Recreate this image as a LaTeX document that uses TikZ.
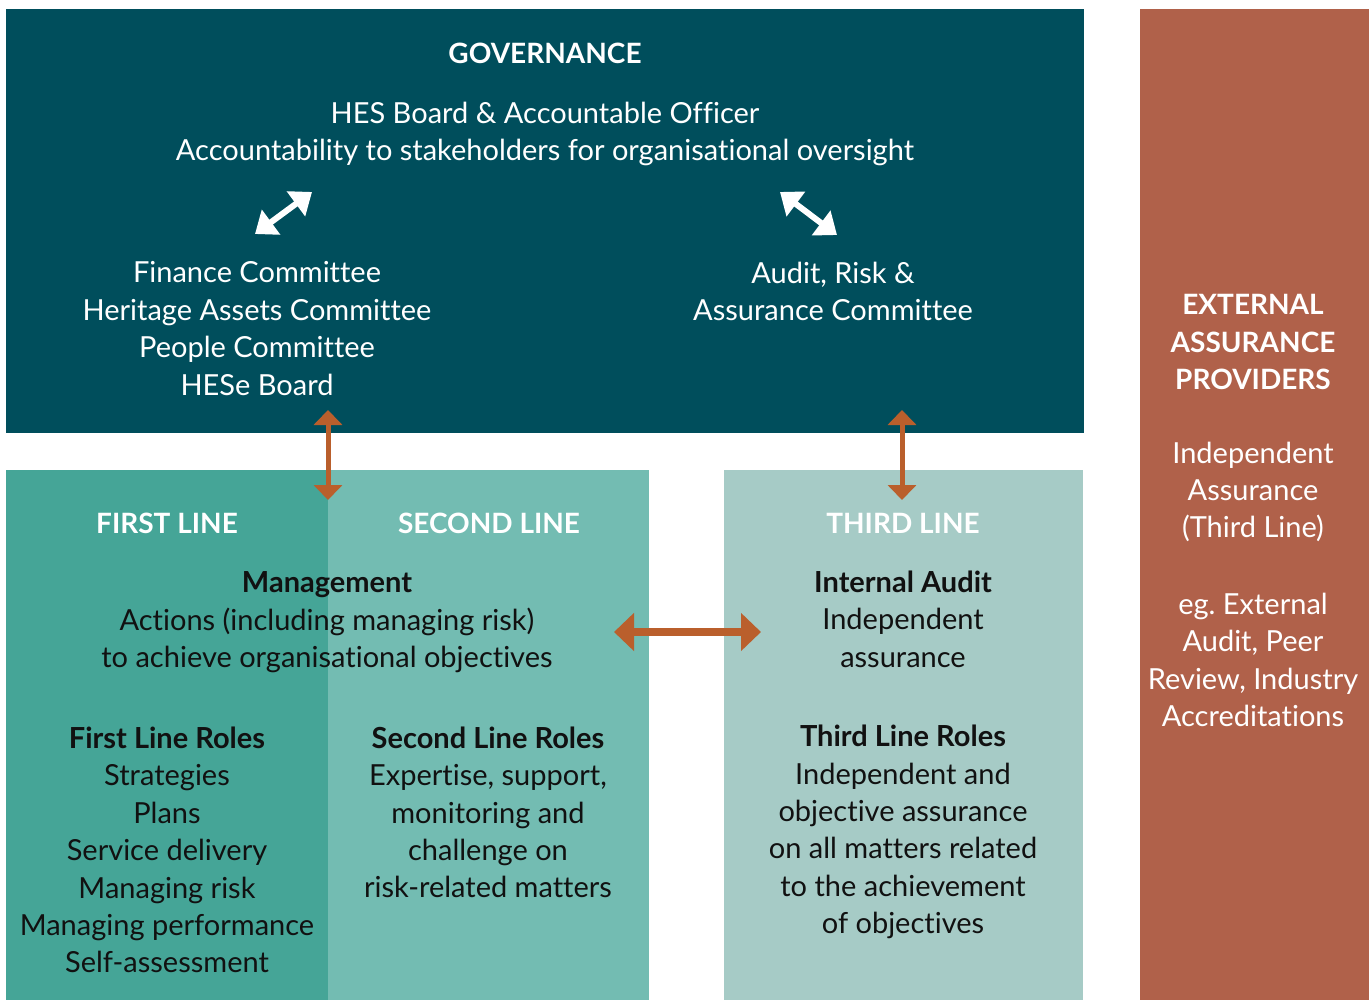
\documentclass[tikz,border=0pt]{standalone}
\usepackage{fontspec}
\setmainfont{Lato}[Ligatures=NoCommon]
\frenchspacing
\usetikzlibrary{arrows.meta}
\definecolor{govteal}{HTML}{004E5C}
\definecolor{firstc}{HTML}{45A597}
\definecolor{secondc}{HTML}{73BCB2}
\definecolor{thirdc}{HTML}{A6CBC6}
\definecolor{extc}{HTML}{B0614A}
\definecolor{arrowc}{HTML}{BA5F2C}
\definecolor{ink}{HTML}{111111}
\begin{document}
\begin{tikzpicture}[x=1pt,y=-1pt,
  txt/.style={align=center, inner sep=0pt, font=\fontsize{29}{37.4}\selectfont},
  head/.style={align=center, inner sep=0pt, font=\fontsize{28}{37.4}\selectfont\bfseries},
  oarrow/.style={draw=arrowc, line width=5pt, {Triangle[width=28pt,length=15pt]}-{Triangle[width=28pt,length=15pt]}},
  harrow/.style={draw=arrowc, line width=8pt, {Triangle[width=37pt,length=20pt]}-{Triangle[width=37pt,length=20pt]}},
  warrow/.style={draw=white, line width=6pt, {Triangle[width=30pt,length=20pt]}-{Triangle[width=30pt,length=20pt]}}]
\useasboundingbox (0,0) rectangle (1369,1000);
% panels
\fill[govteal] (6,9) rectangle (1084,433);
\fill[extc] (1140,9) rectangle (1369,1000);
\fill[firstc] (6,470) rectangle (328,1000);
\fill[secondc] (328,470) rectangle (649,1000);
\fill[thirdc] (724,470) rectangle (1083,1000);

% governance texts
\node[head, text=white] (gov) at (545,53) {GOVERNANCE};
\node[txt, text=white] (board) at (545,134) {HES Board \& Accountable Officer\\Accountability to stakeholders for organisational oversight};
\node[txt, text=white] (comms) at (257,328.5) {Finance Committee\\Heritage Assets Committee\\People Committee\\HESe Board};
\node[txt, text=white] (arac) at (833,291.5) {Audit, Risk \&\\Assurance Committee};

% white links from board to committees
\coordinate (wl1) at (255,234);
\coordinate (wl2) at (312,192);
\coordinate (wr1) at (780,192);
\coordinate (wr2) at (837,235);
\draw[warrow] (wl1) -- (wl2);
\draw[warrow] (wr1) -- (wr2);

% line headings
\node[head, text=white] (first) at (167,523) {FIRST LINE};
\node[head, text=white] (second) at (489,523) {SECOND LINE};
\node[head, text=white] (third) at (903,523) {THIRD LINE};

% management and roles
\node[txt, text=ink] (mgmt) at (327,622.5) {\textbf{Management}\\Actions (including managing risk)\\to achieve organisational objectives};
\node[txt, text=ink] (flr) at (167,850) {\textbf{First Line Roles}\\Strategies\\Plans\\Service delivery\\Managing risk\\Managing performance\\Self-assessment};
\node[txt, text=ink] (slr) at (488,812.5) {\textbf{Second Line Roles}\\Expertise, support,\\monitoring and\\challenge on\\risk-related matters};
\node[txt, text=ink] (ia) at (903,619) {\textbf{Internal Audit}\\Independent\\assurance};
\node[txt, text=ink] (tlr) at (903,832) {\textbf{Third Line Roles}\\Independent and\\objective assurance\\on all matters related\\to the achievement\\of objectives};

% external providers
\node[head, text=white] (ext) at (1253,342) {EXTERNAL\\ASSURANCE\\PROVIDERS};
\node[txt, text=white] (ind) at (1253,492) {Independent\\Assurance\\(Third Line)};
\node[txt, text=white] (eg) at (1253,660) {eg. External\\Audit, Peer\\Review, Industry\\Accreditations};

% orange links between governance and the lines
\coordinate (la) at (328,410);
\coordinate (lb) at (328,500);
\coordinate (ra) at (902,410);
\coordinate (rb) at (902,500);
\coordinate (ha) at (614,632);
\coordinate (hb) at (761,632);
\draw[oarrow] (la) -- (lb);
\draw[oarrow] (ra) -- (rb);
\draw[harrow] (ha) -- (hb);
\end{tikzpicture}
\end{document}
